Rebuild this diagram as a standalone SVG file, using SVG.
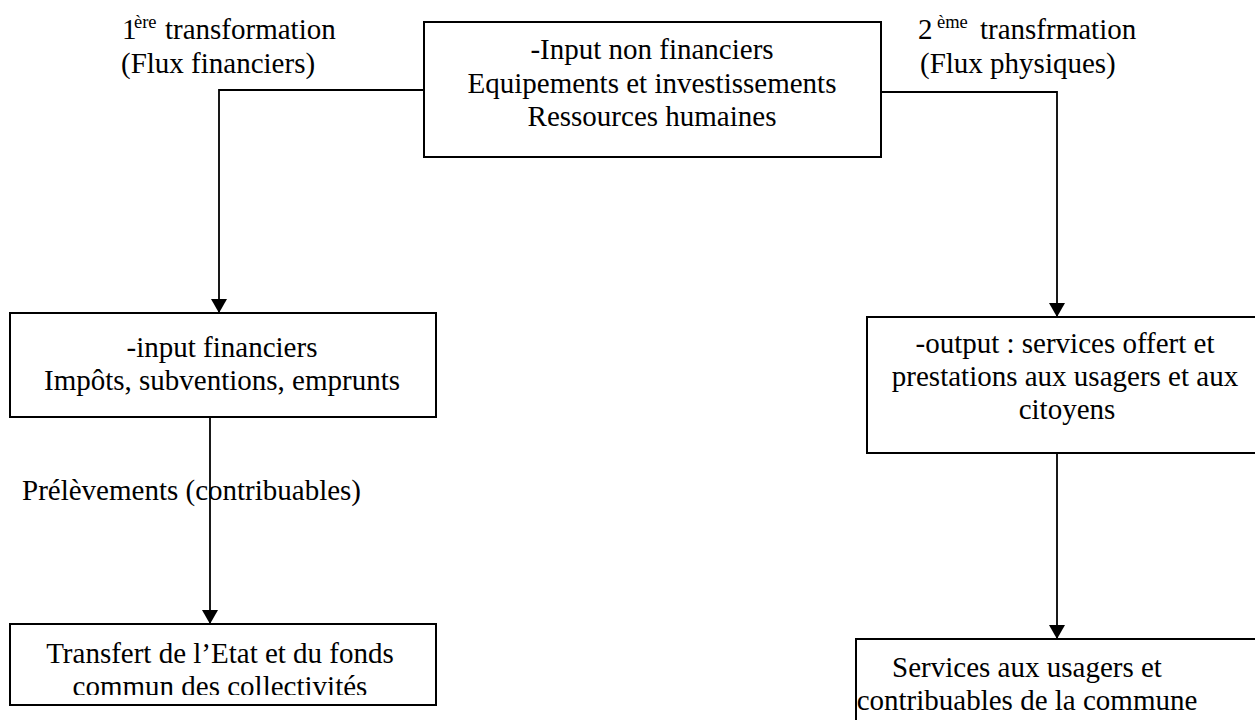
<svg xmlns="http://www.w3.org/2000/svg" width="1255" height="720" viewBox="0 0 1255 720" font-family="'Liberation Serif', 'Times New Roman', 'DejaVu Serif', serif">
  <style>
    text { font-family: 'Liberation Serif', 'Times New Roman', 'DejaVu Serif', serif; font-size: 29px; fill: #000; }
    .c { text-anchor: middle; }
    .sup { font-size: 18.5px; }
    .box { fill: #fff; stroke: #000; stroke-width: 2; }
    .wire { fill: none; stroke: #000; stroke-width: 1.8; }
  </style>
  <defs>
    <marker id="arrow" viewBox="0 0 14 16" markerWidth="14" markerHeight="16" refX="14" refY="8" orient="auto" markerUnits="userSpaceOnUse">
      <path d="M0,0 L14,8 L0,16 Z" fill="#000"/>
    </marker>
    <clipPath id="clipTransfert">
      <rect x="10" y="624" width="426" height="71"/>
    </clipPath>
  </defs>
  <rect width="1255" height="720" fill="#fff"/>

  <!-- flow labels -->
  <g id="label-flux-financiers">
    <text x="122" y="39">1</text>
    <text class="sup" x="134" y="28">ère</text>
    <text x="165" y="39">transformation</text>
    <text x="121" y="73">(Flux financiers)</text>
  </g>
  <g id="label-flux-physiques">
    <text x="918" y="39">2</text>
    <text class="sup" x="937" y="28">ème</text>
    <text x="980" y="39">transfrmation</text>
    <text x="920" y="73">(Flux physiques)</text>
  </g>
  <g id="label-prelevements">
    <text x="22" y="500">Prélèvements (contribuables)</text>
  </g>

  <!-- connectors -->
  <g id="connectors">
    <path class="wire" d="M424,90 L219,90 L219,313" marker-end="url(#arrow)"/>
    <path class="wire" d="M881,92 L1057,92 L1057,317" marker-end="url(#arrow)"/>
    <path class="wire" d="M210,417 L210,624" marker-end="url(#arrow)"/>
    <path class="wire" d="M1057,453 L1057,639" marker-end="url(#arrow)"/>
  </g>

  <!-- nodes -->
  <g id="node-input-non-financiers">
    <rect class="box" x="424" y="22" width="457" height="135"/>
    <text class="c" x="652" y="59">-Input non financiers</text>
    <text class="c" x="652" y="92.5">Equipements et investissements</text>
    <text class="c" x="652" y="126">Ressources humaines</text>
  </g>
  <g id="node-input-financiers">
    <rect class="box" x="10" y="313" width="426" height="104"/>
    <text class="c" x="222" y="357">-input financiers</text>
    <text class="c" x="222" y="390">Impôts, subventions, emprunts</text>
  </g>
  <g id="node-output">
    <rect class="box" x="867" y="317" width="396" height="136"/>
    <text class="c" x="1065" y="353">-output : services offert et</text>
    <text class="c" x="1065" y="386">prestations aux usagers et aux</text>
    <text class="c" x="1067" y="419">citoyens</text>
  </g>
  <g id="node-transfert">
    <rect class="box" x="10" y="624" width="426" height="81"/>
    <g clip-path="url(#clipTransfert)">
      <text class="c" x="220" y="663">Transfert de l’Etat et du fonds</text>
      <text class="c" x="220" y="696">commun des collectivités</text>
    </g>
  </g>
  <g id="node-services">
    <rect class="box" x="856" y="639" width="410" height="90"/>
    <text class="c" x="1027" y="677">Services aux usagers et</text>
    <text class="c" x="1027" y="710">contribuables de la commune</text>
  </g>
</svg>
